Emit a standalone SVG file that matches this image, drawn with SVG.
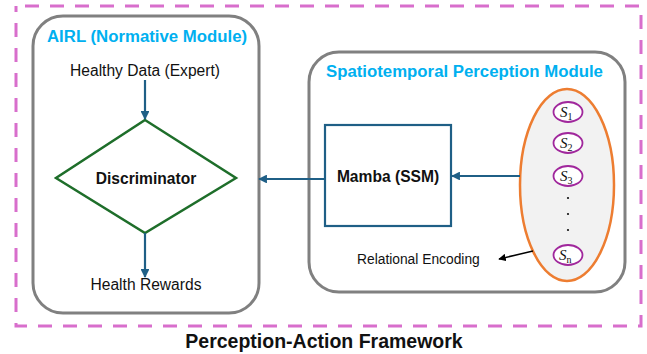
<svg xmlns="http://www.w3.org/2000/svg" width="647" height="354" viewBox="0 0 647 354">
  <style>
    .module { fill: #ffffff; stroke: #808080; stroke-width: 3; }
    .title { font-family: "Liberation Sans", Arial, sans-serif; font-weight: bold; fill: #00B0F0; font-size: 16.8px; }
    .label { font-family: "Liberation Sans", Arial, sans-serif; fill: #111111; font-size: 15.6px; text-anchor: middle; }
    .bold { font-weight: bold; }
    .flow { stroke: #1F5F86; stroke-width: 2.2; fill: none; marker-end: url(#head); }
    .state { fill: #ffffff; stroke: #A0279C; stroke-width: 1.8; }
    .sym { font-family: "Liberation Serif", "Times New Roman", serif; font-style: italic; font-size: 15px; fill: #111111; }
    .sub { font-size: 10px; font-style: normal; }
  </style>
  <defs>
    <marker id="head" viewBox="0 0 10 10" refX="9" refY="5" markerWidth="4" markerHeight="4" orient="auto">
      <path d="M0,0 L10,5 L0,10 Z" fill="#1F5F86"/>
    </marker>
    <marker id="headBlack" viewBox="0 0 10 10" refX="9" refY="5" markerWidth="5" markerHeight="5" orient="auto">
      <path d="M0,0 L10,5 L0,10 Z" fill="#000000"/>
    </marker>
  </defs>

  <rect width="647" height="354" fill="#ffffff"/>

  <!-- Outer framework boundary -->
  <g id="framework">
    <rect x="16" y="6" width="625" height="320" fill="none" stroke="#D86ECC" stroke-width="3" stroke-dasharray="14 11" stroke-dashoffset="16"/>
    <text x="324" y="348" font-family="Liberation Sans, Arial, sans-serif" font-weight="bold" font-size="19.5" text-anchor="middle" fill="#111111">Perception-Action Framework</text>
  </g>

  <!-- AIRL module -->
  <g id="airl">
    <rect class="module" x="33" y="16" width="226" height="297" rx="30"/>
    <text class="title" x="47" y="42">AIRL (Normative Module)</text>
    <text class="label" x="145" y="76">Healthy Data (Expert)</text>
    <polygon points="145,120 236,178 145,233 56,178" fill="#ffffff" stroke="#1E6E2A" stroke-width="2.5"/>
    <text class="label bold" x="146" y="184">Discriminator</text>
    <text class="label" x="146" y="290">Health Rewards</text>
  </g>

  <!-- Spatiotemporal perception module -->
  <g id="perception">
    <rect class="module" x="309" y="52" width="316" height="240" rx="30"/>
    <text class="title" x="326" y="77">Spatiotemporal Perception Module</text>
  </g>

  <g id="mamba">
    <rect x="325" y="125" width="126" height="101" fill="#ffffff" stroke="#1F5F86" stroke-width="2.2"/>
    <text class="label bold" x="388" y="182">Mamba (SSM)</text>
  </g>

  <g id="states">
    <ellipse cx="567" cy="185" rx="47" ry="96" fill="#F2F2F2" stroke="#ED7D31" stroke-width="2.5"/>
    <ellipse class="state" cx="568" cy="112" rx="14.5" ry="10"/>
    <text class="sym" x="560" y="117">S<tspan class="sub" dy="3">1</tspan></text>
    <ellipse class="state" cx="568" cy="143" rx="14.5" ry="10"/>
    <text class="sym" x="560" y="148">S<tspan class="sub" dy="3">2</tspan></text>
    <ellipse class="state" cx="568" cy="176" rx="14.5" ry="10"/>
    <text class="sym" x="560" y="181">S<tspan class="sub" dy="3">3</tspan></text>
    <circle cx="568" cy="198" r="1.1" fill="#111111"/>
    <circle cx="568" cy="214" r="1.1" fill="#111111"/>
    <circle cx="568" cy="230" r="1.1" fill="#111111"/>
    <ellipse class="state" cx="568" cy="255" rx="14.5" ry="10"/>
    <text class="sym" x="559" y="260">S<tspan class="sub" dy="3" font-style="italic">n</tspan></text>
  </g>

  <g id="relational-encoding">
    <text x="357" y="264" font-family="Liberation Sans, Arial, sans-serif" font-size="13.8" fill="#111111">Relational Encoding</text>
  </g>

  <!-- Connectors -->
  <g id="connectors">
    <line class="flow" x1="145" y1="80" x2="145" y2="119"/>
    <line class="flow" x1="145" y1="233" x2="145" y2="277"/>
    <line class="flow" x1="520" y1="176" x2="452" y2="176"/>
    <line class="flow" x1="325" y1="179" x2="259" y2="179"/>
    <line x1="533" y1="251" x2="499" y2="259" stroke="#000000" stroke-width="1.5" marker-end="url(#headBlack)"/>
  </g>
</svg>
